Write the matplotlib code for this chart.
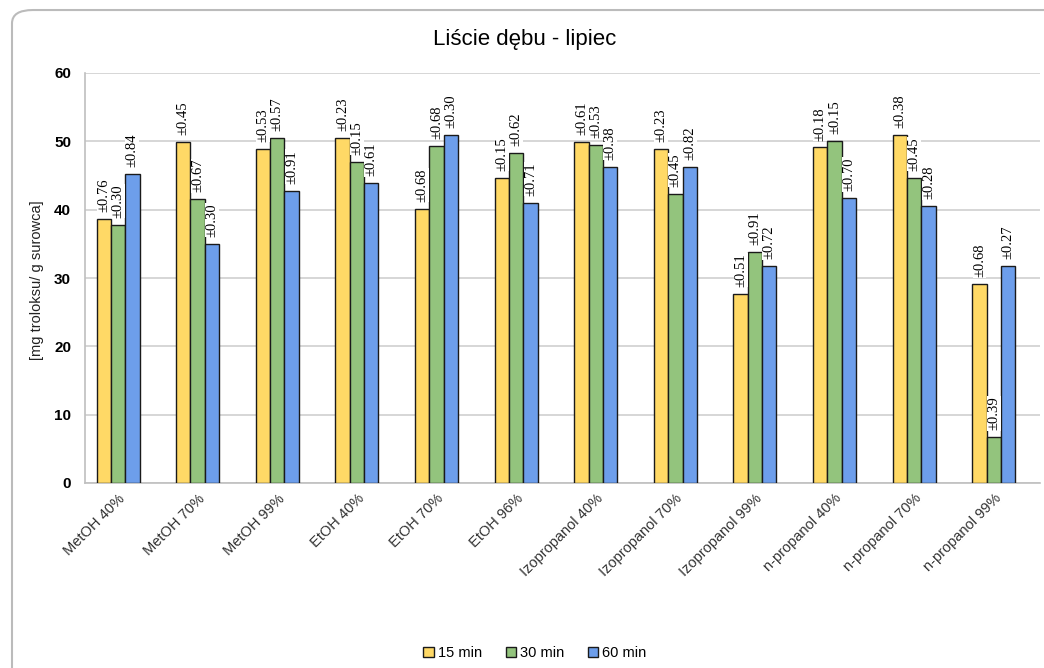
import matplotlib.pyplot as plt
import numpy as np
from matplotlib.patches import FancyBboxPatch

categories = ["MetOH 40%", "MetOH 70%", "MetOH 99%", "EtOH 40%", "EtOH 70%", "EtOH 96%",
              "Izopropanol 40%", "Izopropanol 70%", "Izopropanol 99%",
              "n-propanol 40%", "n-propanol 70%", "n-propanol 99%"]

min15 = [38.6, 49.9, 48.9, 50.5, 40.1, 44.7, 49.9, 48.9, 27.7, 49.1, 50.9, 29.1]
min30 = [37.8, 41.5, 50.5, 47.0, 49.3, 48.3, 49.5, 42.3, 33.8, 50.1, 44.7, 6.7]
min60 = [45.2, 35.0, 42.8, 43.9, 50.9, 41.0, 46.3, 46.2, 31.7, 41.7, 40.5, 31.7]

err15 = [0.76, 0.45, 0.53, 0.23, 0.68, 0.15, 0.61, 0.23, 0.51, 0.18, 0.38, 0.68]
err30 = [0.30, 0.67, 0.57, 0.15, 0.68, 0.62, 0.53, 0.45, 0.91, 0.15, 0.45, 0.39]
err60 = [0.84, 0.30, 0.91, 0.61, 0.30, 0.71, 0.38, 0.82, 0.72, 0.70, 0.28, 0.27]

series = ["15 min", "30 min", "60 min"]
colors = ["#FFD966", "#93C47D", "#6D9EEB"]

fig = plt.figure(figsize=(10.44, 6.68), dpi=100)
ax = fig.add_axes([85 / 1044, 1 - 483 / 668, 955 / 1044, 410 / 668])

x = np.arange(len(categories))
w = 0.18
for i, (vals, errs) in enumerate(zip([min15, min30, min60], [err15, err30, err60])):
    bars = ax.bar(x + (i - 1) * w, vals, w, color=colors[i], edgecolor="#1a1a1a",
                  linewidth=1, label=series[i], zorder=3)
    for b, e in zip(bars, errs):
        ax.annotate(f"±{e:.2f}", (b.get_x() + b.get_width() / 2, b.get_height()),
                    xytext=(0, 5), textcoords="offset points", rotation=90,
                    ha="center", va="bottom", fontsize=10.5, family="Liberation Serif",
                    zorder=4,
                    bbox=dict(facecolor="white", edgecolor="none", pad=0.3))

ax.set_ylim(0, 60)
ax.set_yticks(range(0, 61, 10))
ax.set_xlim(-0.415, 11.58)
ax.set_xticks(x)
ax.set_xticklabels(categories, rotation=45, ha="right", rotation_mode="anchor",
                   fontsize=10.5, family="Liberation Sans", color="#333333")
for lab in ax.get_yticklabels():
    lab.set_fontweight("bold")
    lab.set_family("Liberation Sans")
    lab.set_fontsize(11)
ax.tick_params(axis="both", length=0)
ax.tick_params(axis="x", pad=6)
ax.tick_params(axis="y", pad=10)
ax.grid(axis="y", color="#D0D0D0", linewidth=1.2, zorder=0)
ax.set_axisbelow(True)
for s in ["top", "right"]:
    ax.spines[s].set_visible(False)
for s in ["left", "bottom"]:
    ax.spines[s].set_color("#BFBFBF")
    ax.spines[s].set_linewidth(1.2)

fig.text(0.503, 1 - 40 / 668, "Liście dębu - lipiec", ha="center", va="center",
         fontsize=16, family="Liberation Sans")
fig.text(37 / 1044, 1 - 280 / 668, "[mg troloksu/ g surowca]", rotation=90,
         ha="center", va="center", fontsize=10.5, family="Liberation Sans", color="#222222")

fig.legend(loc="center", bbox_to_anchor=(535 / 1044, 1 - 653 / 668), ncol=3,
           frameon=False, handlelength=0.7, handleheight=0.7, columnspacing=1.6,
           handletextpad=0.3, prop={"family": "Liberation Sans", "size": 10.5})

fig.patches.append(FancyBboxPatch((12 / 1044, -0.05), 1.1, 1.035,
                                  boxstyle="round,pad=0,rounding_size=0.02",
                                  transform=fig.transFigure, fill=False,
                                  edgecolor="#BBBBBB", linewidth=1.5))

fig.savefig("out.png", dpi=100)
